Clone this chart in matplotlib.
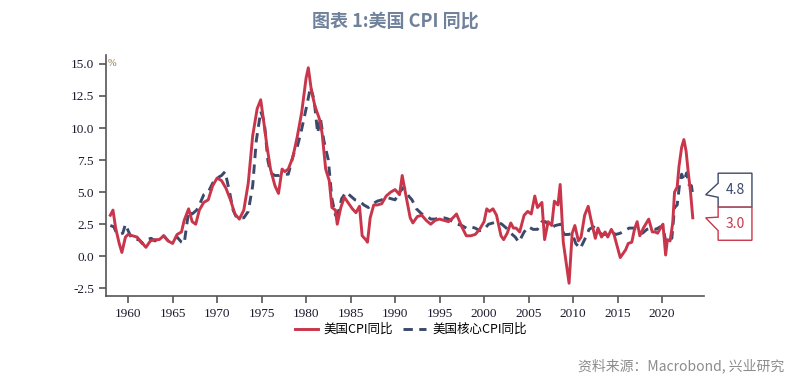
import matplotlib
matplotlib.use("Agg")
import matplotlib.pyplot as plt
from matplotlib.patches import Polygon

plt.rcParams['font.family'] = ['Noto Sans CJK SC', 'DejaVu Sans']

# 美国CPI同比 (年份, %)
cpi_t = [1958.0, 1958.3, 1958.6, 1959.0, 1959.3, 1959.7, 1960.0, 1960.5, 1961.0, 1961.5,
         1962.0, 1962.5, 1963.0, 1963.5, 1964.0, 1964.5, 1965.0, 1965.5, 1966.0, 1966.3,
         1966.8, 1967.2, 1967.6, 1968.0, 1968.5, 1969.0, 1969.5, 1970.0, 1970.5, 1971.0,
         1971.5, 1972.0, 1972.5, 1973.0, 1973.5, 1974.0, 1974.5, 1974.9, 1975.3, 1975.6,
         1976.0, 1976.5, 1976.9, 1977.3, 1977.6, 1978.0, 1978.5, 1979.0, 1979.5, 1980.0,
         1980.25, 1980.6, 1981.0, 1981.5, 1981.8, 1982.2, 1982.6, 1982.9, 1983.3, 1983.5,
         1983.9, 1984.3, 1984.8, 1985.2, 1985.6, 1986.0, 1986.3, 1986.7, 1986.9, 1987.2,
         1987.6, 1988.0, 1988.5, 1989.0, 1989.5, 1990.0, 1990.5, 1990.8, 1991.2, 1991.7,
         1992.0, 1992.5, 1993.0, 1993.5, 1994.0, 1994.5, 1995.0, 1995.5, 1996.0, 1996.5,
         1996.9, 1997.5, 1998.0, 1998.5, 1999.0, 1999.5, 2000.0, 2000.3, 2000.6, 2001.0,
         2001.4, 2001.9, 2002.2, 2002.6, 2003.0, 2003.3, 2003.6, 2004.0, 2004.5, 2004.9,
         2005.3, 2005.7, 2006.0, 2006.5, 2006.8, 2007.2, 2007.6, 2007.9, 2008.3, 2008.55,
         2008.9, 2009.2, 2009.55, 2009.9, 2010.2, 2010.6, 2010.9, 2011.3, 2011.7, 2012.0,
         2012.5, 2012.8, 2013.2, 2013.6, 2013.9, 2014.3, 2014.6, 2014.95, 2015.3, 2015.6,
         2015.9, 2016.2, 2016.6, 2016.9, 2017.2, 2017.5, 2017.9, 2018.5, 2018.9, 2019.2,
         2019.5, 2019.9, 2020.1, 2020.4, 2020.6, 2020.9, 2021.2, 2021.4, 2021.7, 2021.9,
         2022.2, 2022.45, 2022.7, 2022.95, 2023.2, 2023.45]
cpi_v = [3.2, 3.6, 2.2, 1.0, 0.3, 1.5, 1.7, 1.6, 1.5, 1.1,
         0.7, 1.2, 1.3, 1.3, 1.6, 1.2, 1.0, 1.7, 1.9, 2.8,
         3.7, 2.7, 2.5, 3.6, 4.2, 4.4, 5.5, 6.1, 5.9, 5.3,
         4.4, 3.3, 2.9, 3.6, 5.7, 9.4, 11.5, 12.2, 10.2, 8.6,
         6.8, 5.5, 4.9, 6.8, 6.6, 6.8, 7.7, 9.3, 11.2, 13.9,
         14.7, 12.9, 11.7, 10.7, 9.6, 6.8, 5.9, 3.8, 3.6, 2.5,
         3.8, 4.6, 4.1, 3.7, 3.4, 3.9, 1.6, 1.3, 1.1, 3.0,
         4.0, 4.0, 4.1, 4.7, 5.0, 5.2, 4.8, 6.3, 4.8, 3.0,
         2.6, 3.1, 3.2, 2.8, 2.5, 2.8, 2.9, 2.8, 2.7, 3.0,
         3.3, 2.3, 1.6, 1.6, 1.7, 2.1, 2.7, 3.7, 3.5, 3.7,
         3.2, 1.6, 1.3, 1.8, 2.6, 2.2, 2.2, 1.9, 3.2, 3.5,
         3.3, 4.7, 3.8, 4.2, 1.3, 2.7, 2.4, 4.3, 4.0, 5.6,
         1.1, -0.4, -2.1, 1.8, 2.4, 1.2, 1.5, 3.2, 3.9, 2.9,
         1.4, 2.2, 1.5, 1.9, 1.5, 2.1, 1.7, 0.8, -0.1, 0.2,
         0.5, 1.0, 1.1, 2.1, 2.7, 1.6, 2.2, 2.9, 1.9, 1.9,
         1.8, 2.3, 2.5, 0.1, 1.3, 1.2, 2.6, 5.0, 5.4, 7.0,
         8.5, 9.1, 8.2, 6.5, 5.0, 3.0]

# 美国核心CPI同比 (年份, %)
core_t = [1958.0, 1958.4, 1958.7, 1959.0, 1959.4, 1959.7, 1960.0, 1960.4, 1960.8, 1961.2,
          1961.6, 1962.0, 1962.6, 1963.0, 1963.5, 1964.0, 1964.5, 1965.0, 1965.5, 1966.0,
          1966.3, 1966.8, 1967.2, 1967.7, 1968.0, 1968.5, 1969.0, 1969.5, 1970.0, 1970.5,
          1970.9, 1971.4, 1971.8, 1972.2, 1972.6, 1973.0, 1973.5, 1974.0, 1974.4, 1974.9,
          1975.3, 1975.7, 1976.0, 1976.5, 1977.0, 1977.5, 1978.0, 1978.6, 1979.0, 1979.5,
          1980.0, 1980.5, 1980.9, 1981.3, 1981.6, 1982.0, 1982.5, 1982.9, 1983.3, 1983.6,
          1984.0, 1984.5, 1985.0, 1985.5, 1986.0, 1986.5, 1987.0, 1987.5, 1988.0, 1988.5,
          1989.0, 1989.5, 1990.0, 1990.5, 1991.0, 1991.4, 1991.9, 1992.4, 1993.0, 1993.5,
          1994.0, 1994.5, 1995.0, 1995.5, 1996.0, 1996.5, 1997.0, 1997.5, 1998.0, 1998.5,
          1999.0, 1999.5, 2000.0, 2000.5, 2001.0, 2001.5, 2002.0, 2002.5, 2003.0, 2003.5,
          2003.9, 2004.5, 2005.0, 2005.5, 2006.0, 2006.5, 2006.9, 2007.5, 2008.0, 2008.6,
          2009.0, 2009.5, 2009.9, 2010.3, 2010.8, 2011.3, 2011.8, 2012.3, 2012.8, 2013.3,
          2013.8, 2014.3, 2014.8, 2015.3, 2015.8, 2016.3, 2016.8, 2017.3, 2017.8, 2018.3,
          2018.8, 2019.3, 2019.8, 2020.1, 2020.4, 2020.8, 2021.1, 2021.4, 2021.7, 2022.0,
          2022.2, 2022.5, 2022.75, 2023.0, 2023.3, 2023.45]
core_v = [2.4, 2.3, 1.8, 1.7, 1.8, 2.5, 2.0, 1.4, 1.3, 1.3,
          1.0, 1.3, 1.4, 1.2, 1.4, 1.6, 1.2, 1.3, 1.5, 1.1,
          1.0, 3.5, 3.3, 3.6, 4.0, 4.8, 5.0, 5.7, 6.1, 6.3,
          6.6, 5.0, 3.6, 3.0, 3.0, 3.0, 3.5, 5.5, 9.0, 11.3,
          10.5, 7.5, 6.5, 6.3, 6.3, 6.4, 6.4, 8.0, 8.5, 9.9,
          11.5, 13.2, 12.2, 9.6, 10.8, 9.0, 7.5, 4.5, 3.2, 3.4,
          4.5, 5.0, 4.7, 4.4, 4.3, 4.0, 3.8, 4.1, 4.3, 4.4,
          4.6, 4.5, 4.4, 5.0, 5.4, 4.8, 4.4, 3.7, 3.3, 3.2,
          2.9, 2.9, 3.0, 3.0, 2.9, 2.7, 2.5, 2.4, 2.2, 2.3,
          2.2, 2.0, 2.1, 2.5, 2.6, 2.7, 2.5, 2.2, 1.8, 1.5,
          1.1, 1.9, 2.3, 2.1, 2.1, 2.7, 2.7, 2.2, 2.4, 2.5,
          1.7, 1.7, 1.8, 1.0, 0.6, 1.3, 2.1, 2.3, 1.9, 1.7,
          1.7, 1.9, 1.7, 1.8, 2.0, 2.2, 2.2, 1.8, 1.8, 2.1,
          2.2, 2.1, 2.3, 2.3, 1.2, 1.6, 1.4, 3.8, 4.0, 5.8,
          6.4, 5.9, 6.5, 5.6, 5.5, 4.8]

x_ticks = [1960, 1965, 1970, 1975, 1980, 1985, 1990, 1995, 2000, 2005, 2010, 2015, 2020]
y_ticks = [-2.5, 0.0, 2.5, 5.0, 7.5, 10.0, 12.5, 15.0]

red = '#c9364b'
navy = '#3b4a6b'

fig = plt.figure(figsize=(7.9, 3.84), dpi=100)
ax = fig.add_axes([0.134, 0.229, 0.757, 0.628])

ax.plot(cpi_t, cpi_v, color=red, lw=2.1, label='美国CPI同比', zorder=3)
ax.plot(core_t, core_v, color=navy, lw=2.1, ls=(0, (3.2, 2.2)), label='美国核心CPI同比', zorder=2)

ax.set_xlim(1957.5, 2024.7)
ax.set_ylim(-3.1, 15.7)
ax.set_xticks(x_ticks)
ax.set_yticks(y_ticks)
ax.set_yticklabels([f'{v:.1f}' for v in y_ticks])
for lab in ax.get_xticklabels() + ax.get_yticklabels():
    lab.set_family(['Liberation Serif', 'DejaVu Serif'])
    lab.set_fontsize(9.5)
    lab.set_color('#1a1a2e')

for s in ['top', 'right']:
    ax.spines[s].set_visible(False)
for s in ['left', 'bottom']:
    ax.spines[s].set_color('#555555')
    ax.spines[s].set_linewidth(1.2)
ax.tick_params(axis='both', colors='#555555', length=5, width=1.2, labelcolor='#1a1a2e')

ax.text(1957.7, 15.0, '%', fontsize=7.5, color='#8a6d3b', va='center', ha='left',
        family=['Liberation Serif', 'DejaVu Serif'])

# 末值标注框
def callout(y_tip, y_lo, y_hi, n_lo, n_hi, val, col):
    x_tip, x_l, x_r = 2024.9, 2026.3, 2030.1
    pts = [(x_l, y_hi), (x_r, y_hi), (x_r, y_lo), (x_l, y_lo), (x_l, n_lo), (x_tip, y_tip), (x_l, n_hi)]
    ax.add_patch(Polygon(pts, closed=True, fill=True, facecolor='white', edgecolor=col,
                         lw=1.0, clip_on=False, zorder=5))
    ax.text((x_l + x_r) / 2, (y_lo + y_hi) / 2, f'{val:.1f}', color=col, fontsize=10,
            ha='center', va='center', clip_on=False, zorder=6)

callout(core_v[-1], 3.83, 6.48, 4.6, 5.7, core_v[-1], navy)
callout(cpi_v[-1], 1.25, 3.83, 2.0, 3.05, cpi_v[-1], red)

leg = ax.legend(loc='upper center', bbox_to_anchor=(0.51, -0.065), ncol=2, frameon=False,
                fontsize=9, handlelength=1.8, columnspacing=0.8, handletextpad=0.5)

fig.text(0.5, 0.945, '图表 1:美国 CPI 同比', ha='center', va='center', fontsize=13,
         fontweight='bold', color='#6f819b')
fig.text(0.993, 0.047, '资料来源：Macrobond, 兴业研究', ha='right', va='center', fontsize=10,
         color='#8c8c8c')

fig.savefig('out.png', dpi=100)
